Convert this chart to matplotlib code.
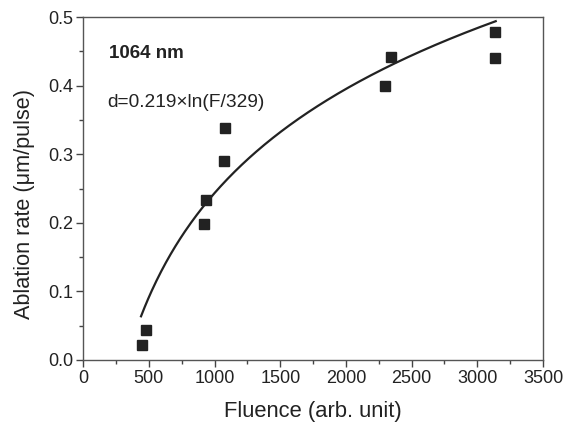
import matplotlib
matplotlib.use("Agg")
import matplotlib.pyplot as plt
from matplotlib.ticker import MultipleLocator
import numpy as np

plt.rcParams['font.family'] = ['Liberation Sans', 'DejaVu Sans']

# measured points
fluence = [445, 478, 919, 934, 1072, 1079, 2297, 2341, 3131, 3136]
rate = [0.022, 0.044, 0.199, 0.234, 0.290, 0.338, 0.400, 0.442, 0.440, 0.478]

# log fit d = a*ln(F/F0)
fit_a = 0.219
fit_f0 = 329
fit_range = (440, 3140)

ink = '#222222'

fig = plt.figure(figsize=(5.74, 4.28), dpi=100)
ax = fig.add_axes([0.145, 0.159, 0.801, 0.801])

f = np.linspace(fit_range[0], fit_range[1], 300)
ax.plot(f, fit_a * np.log(f / fit_f0), color=ink, lw=1.6)
ax.plot(fluence, rate, 's', color=ink, ms=6.5, mec=ink)

ax.set_xlim(0, 3500)
ax.set_ylim(0, 0.5)
ax.xaxis.set_major_locator(MultipleLocator(500))
ax.xaxis.set_minor_locator(MultipleLocator(250))
ax.yaxis.set_major_locator(MultipleLocator(0.1))
ax.yaxis.set_minor_locator(MultipleLocator(0.05))
ax.tick_params(which='both', direction='out', colors='#444444', labelcolor=ink,
               labelsize=13, width=1.0)
ax.tick_params(which='major', length=5, pad=2)
ax.tick_params(which='minor', length=3)
for s in ax.spines.values():
    s.set_color('#555555')
    s.set_linewidth(1.0)

ax.set_xlabel('Fluence (arb. unit)', fontsize=15.8, color=ink)
ax.xaxis.set_label_coords(0.5, -0.12)
ax.set_ylabel('Ablation rate (μm/pulse)', fontsize=15.6, color=ink)
ax.yaxis.set_label_coords(-0.104, 0.455)

ax.text(0.055, 0.895, '1064 nm', transform=ax.transAxes, fontsize=13.5,
        fontweight='bold', color=ink, va='center')
ax.text(0.052, 0.752, 'd=0.219×ln(F/329)', transform=ax.transAxes, fontsize=13.8,
        color=ink, va='center')

fig.savefig('out.png', dpi=100)
